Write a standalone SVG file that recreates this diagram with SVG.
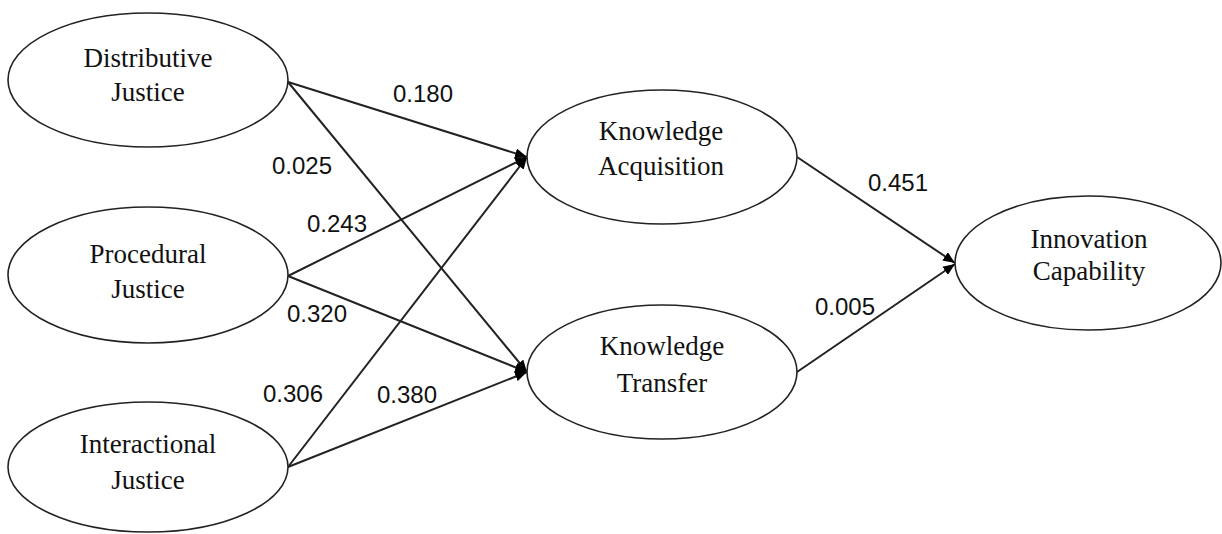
<svg xmlns="http://www.w3.org/2000/svg" width="1222" height="534" viewBox="0 0 1222 534">
<style>
.node ellipse{fill:#fff;stroke:#222;stroke-width:1.6}
.node text{font-family:"Liberation Serif","Times New Roman",serif;font-size:27px;fill:#111;text-anchor:middle}
.edges line{stroke:#222;stroke-width:2;marker-end:url(#arr)}
.lbl{font-family:"Liberation Sans",Arial,sans-serif;font-size:24px;fill:#111}
</style>
<defs>
<marker id="arr" viewBox="0 0 12 10" refX="12" refY="5" markerWidth="12" markerHeight="10" markerUnits="userSpaceOnUse" orient="auto">
<path d="M0,0 L12,5 L0,10 Z" fill="#000"/>
</marker>
</defs>
<rect width="1222" height="534" fill="#fff"/>
<g class="edges">
<line x1="288" y1="82" x2="527" y2="157"/>
<line x1="288" y1="82" x2="527" y2="372"/>
<line x1="288" y1="276" x2="527" y2="157"/>
<line x1="288" y1="276" x2="527" y2="372"/>
<line x1="288" y1="467" x2="527" y2="157"/>
<line x1="288" y1="467" x2="527" y2="372"/>
<line x1="797" y1="157" x2="955" y2="263"/>
<line x1="797" y1="372" x2="955" y2="264"/>
</g>
<g id="distributive" class="node"><ellipse cx="148" cy="80" rx="140" ry="67"/><text x="148" y="67">Distributive</text><text x="148" y="101">Justice</text></g>
<g id="procedural" class="node"><ellipse cx="148" cy="275" rx="140" ry="68"/><text x="148" y="263">Procedural</text><text x="148" y="298">Justice</text></g>
<g id="interactional" class="node"><ellipse cx="148" cy="467" rx="140" ry="65"/><text x="148" y="453">Interactional</text><text x="148" y="489">Justice</text></g>
<g id="acquisition" class="node"><ellipse cx="662" cy="157" rx="135" ry="67"/><text x="661" y="140">Knowledge</text><text x="661" y="175">Acquisition</text></g>
<g id="transfer" class="node"><ellipse cx="662" cy="372" rx="135" ry="67"/><text x="662" y="355">Knowledge</text><text x="662" y="392">Transfer</text></g>
<g id="innovation" class="node"><ellipse cx="1088" cy="263" rx="133" ry="67"/><text x="1089" y="248">Innovation</text><text x="1089" y="280">Capability</text></g>
<g id="labels">
<text class="lbl" x="393" y="102">0.180</text>
<text class="lbl" x="272" y="174">0.025</text>
<text class="lbl" x="307" y="232">0.243</text>
<text class="lbl" x="287" y="322">0.320</text>
<text class="lbl" x="263" y="402">0.306</text>
<text class="lbl" x="377" y="403">0.380</text>
<text class="lbl" x="868" y="191">0.451</text>
<text class="lbl" x="815" y="315">0.005</text>
</g>
</svg>
